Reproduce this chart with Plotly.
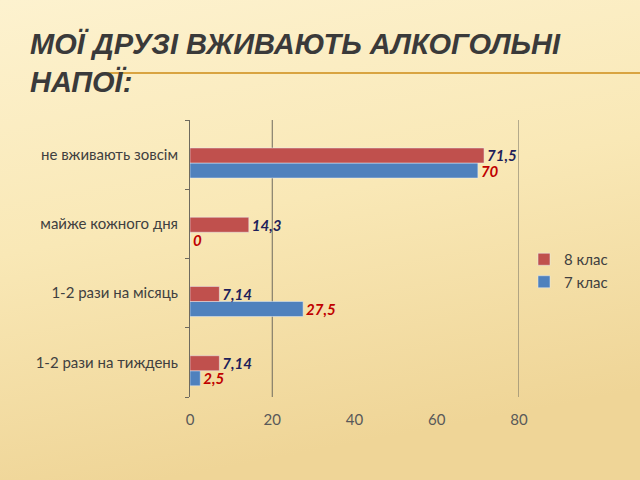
import base64
import plotly.graph_objects as go

categories = ["1-2 рази на тиждень", "1-2 рази на місяць", "майже кожного дня", "не вживають зовсім"]
grade7_values = [2.5, 27.5, 0, 70]
grade8_values = [7.14, 7.14, 14.3, 71.5]
grade7_labels = ["2,5", "27,5", "0", "70"]
grade8_labels = ["7,14", "7,14", "14,3", "71,5"]
x_ticks = [0, 20, 40, 60, 80]
grid_values = [20, 80]

W, H = 640, 480
L, R, T, B = 190, 121, 120, 83
pw, ph = W - L - R, H - T - B
BAR_W = 0.217


def px_x(p):
    return (p - L) / pw


def px_y(p):
    return (H - B - p) / ph


svg = f"""<svg xmlns='http://www.w3.org/2000/svg' width='{W}' height='{H}'>
<defs><linearGradient id='g' x1='0' y1='0' x2='0.25' y2='1'>
<stop offset='0' stop-color='#FDF2CF'/><stop offset='0.5' stop-color='#F9E8B6'/>
<stop offset='1' stop-color='#EFD597'/></linearGradient></defs>
<rect width='{W}' height='{H}' fill='url(#g)'/></svg>"""
bg_src = "data:image/svg+xml;base64," + base64.b64encode(svg.encode()).decode()

label_font = dict(size=15, family="Lato", weight="bold", style="italic")

fig = go.Figure()
fig.add_trace(go.Bar(
    y=categories, x=grade7_values, orientation="h", name="7 клас",
    marker=dict(color="#4F81BD"), text=grade7_labels, textposition="outside",
    textfont=dict(color="#C00000", **label_font), constraintext="none",
    width=BAR_W, offset=-0.338, cliponaxis=False,
))
fig.add_trace(go.Bar(
    y=categories, x=grade8_values, orientation="h", name="8 клас",
    marker=dict(color="#C0504D"), text=grade8_labels, textposition="outside",
    textfont=dict(color="#1F1F5A", **label_font), constraintext="none",
    width=BAR_W, offset=-0.121, cliponaxis=False,
))

shapes = [dict(type="line", xref="x", yref="paper", x0=g, x1=g, y0=0, y1=1,
               line=dict(color="#6E6A5E", width=1), layer="below") for g in grid_values]
shapes.append(dict(type="line", xref="paper", yref="paper", x0=px_x(105), x1=px_x(640),
                   y0=px_y(73), y1=px_y(73), line=dict(color="#D9A441", width=2)))

fig.update_layout(
    width=W, height=H, margin=dict(l=L, r=R, t=T, b=B),
    paper_bgcolor="#FBEDC4", plot_bgcolor="rgba(0,0,0,0)",
    barmode="overlay",
    showlegend=True,
    legend=dict(x=px_x(524), y=px_y(243), xanchor="left", yanchor="top",
                traceorder="reversed", font=dict(family="Lato", size=15, color="#404040"),
                bgcolor="rgba(0,0,0,0)", itemwidth=30),
    images=[dict(source=bg_src, xref="paper", yref="paper", x=px_x(0), y=px_y(0),
                 sizex=W / pw, sizey=H / ph, sizing="stretch", layer="below",
                 xanchor="left", yanchor="top")],
    shapes=shapes,
    annotations=[dict(text="МОЇ ДРУЗІ ВЖИВАЮТЬ АЛКОГОЛЬНІ<br>НАПОЇ:", xref="paper", yref="paper",
                      x=px_x(28), y=px_y(26), xanchor="left", yanchor="top", align="left",
                      showarrow=False,
                      font=dict(family="Liberation Sans Narrow, Liberation Sans", size=29,
                                color="#3A3A3A", weight="bold", style="italic"))],
    xaxis=dict(range=[0, 80], tickvals=x_ticks, showgrid=False, zeroline=False,
               showline=False, ticks="", ticklabelstandoff=12,
               tickfont=dict(family="Lato", size=15, color="#595959")),
    yaxis=dict(showline=True, linecolor="#6E6A5E", linewidth=1, ticks="outside",
               tickson="boundaries", ticklen=4, tickcolor="#6E6A5E", showgrid=False,
               tickfont=dict(family="Lato", size=15, color="#404040"), ticklabelstandoff=8),
)

fig.write_html("out.html")
